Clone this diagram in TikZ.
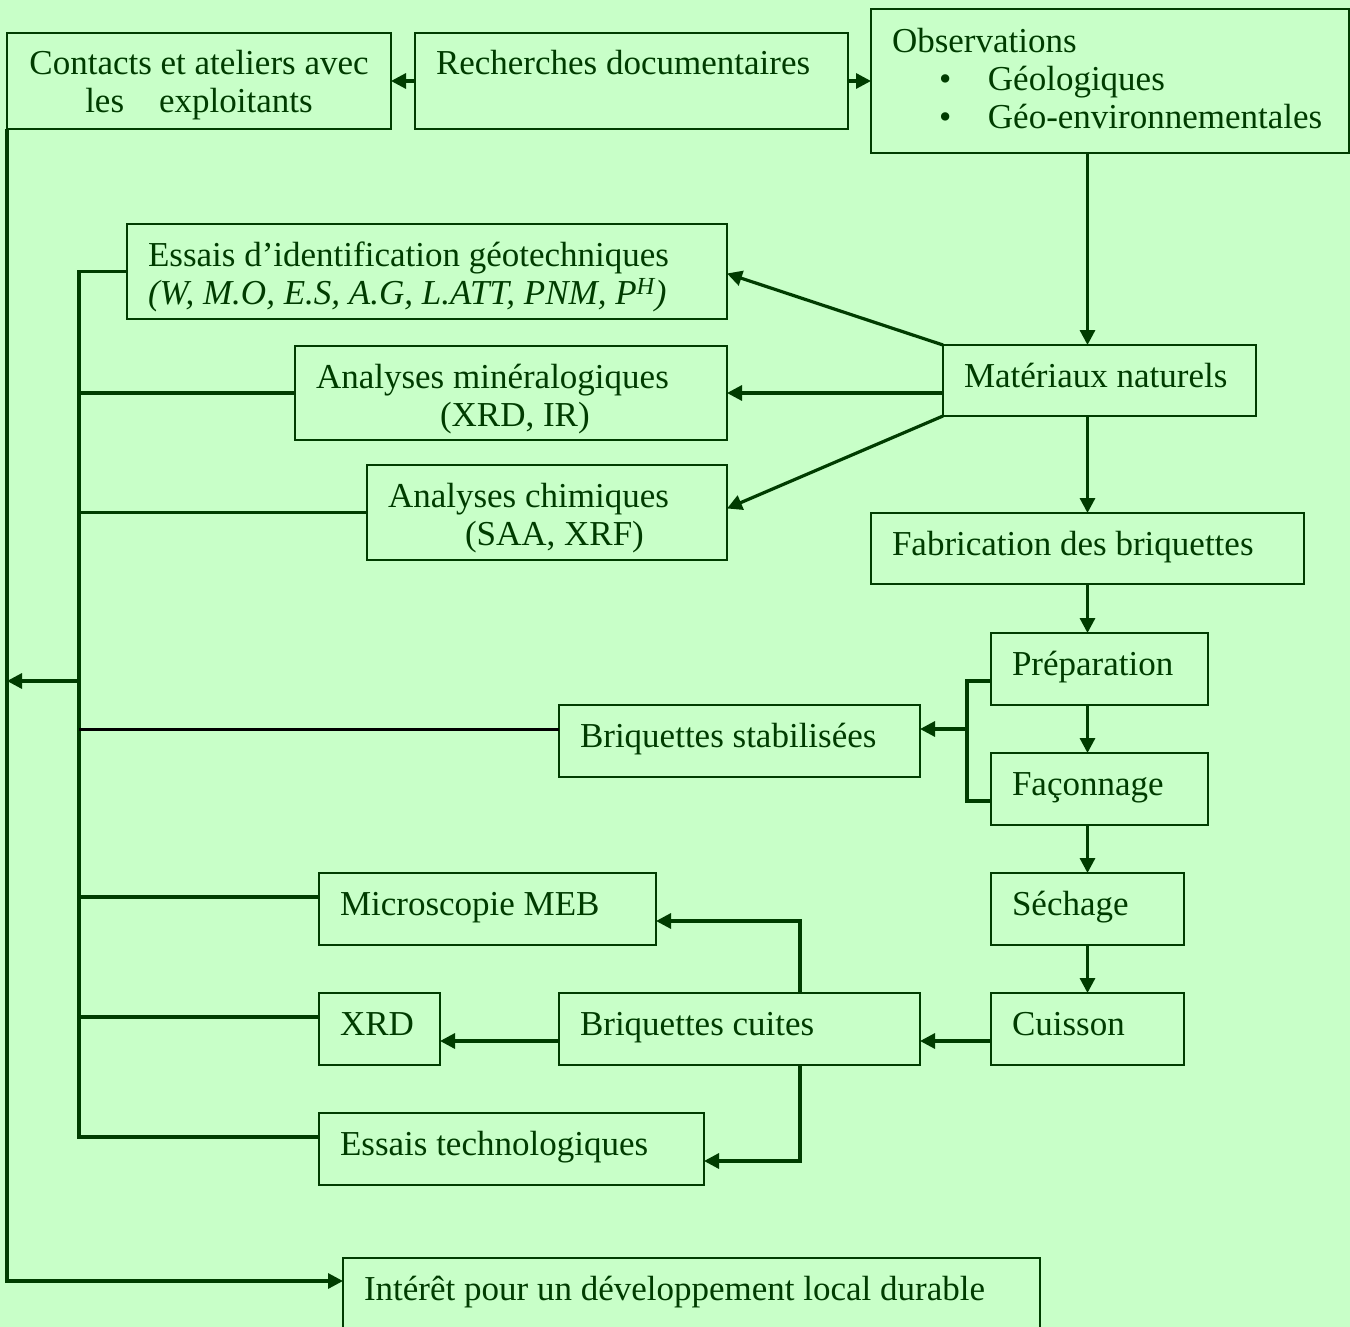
\documentclass[tikz,border=0pt]{standalone}
\usepackage{fontspec}
\setmainfont{Liberation Serif}
\usetikzlibrary{arrows.meta}
\definecolor{bg}{RGB}{200,255,200}
\definecolor{dg}{RGB}{0,60,0}
\newcommand\bxfont{\fontsize{35}{38}\selectfont}
\begin{document}
\begin{tikzpicture}[x=1pt,y=-1pt,
  box/.style={draw=dg, line width=1.6pt, rectangle, anchor=north west, outer sep=0pt,
    inner xsep=21pt, inner ysep=14pt, text height=28pt, text depth=16pt,
    align=flush left, font=\bxfont, text=dg},
  conn/.style={draw=dg, line width=3.2pt},
  arr/.style={-{Triangle[length=15pt,width=15pt]}},
]
\useasboundingbox (0,0) rectangle (1350,1327);
\fill[bg] (0,0) rectangle (1350,1327);
\clip (0,0) rectangle (1350,1327);

% top row
\node[box, align=flush center, inner xsep=15pt, text width=354pt, text depth=40pt] (cont) at (7,33)
  {Contacts et ateliers avec\\les\hspace*{35pt}exploitants};
\node[box, text width=391pt, text depth=40pt] (rech) at (415,33) {Recherches documentaires};
\node[box, text width=436pt, text height=30pt, text depth=86pt] (obs) at (871,9)
  {Observations\\\makebox[96pt][l]{\hspace*{47pt}\textbullet}Géologiques\\\makebox[96pt][l]{\hspace*{47pt}\textbullet}Géo-environnementales};

% analyses
\node[box, text width=558pt, text depth=39pt] (ess) at (127,224)
  {Essais d’identification géotechniques\\\textit{(W, M.O, E.S, A.G, L.ATT, PNM, P\textsuperscript{H})}};
\node[box, text width=390pt, text depth=38pt] (amin) at (295,346)
  {Analyses minéralogiques\\\hspace*{124pt}(XRD, IR)};
\node[box, text width=318pt, text depth=39pt] (achim) at (367,465)
  {Analyses chimiques\\\hspace*{77pt}(SAA, XRF)};

% right chain
\node[box, text width=271pt, text depth=15pt] (mat) at (943,345) {Matériaux naturels};
\node[box, text width=391pt, text depth=15pt] (fab) at (871,513) {Fabrication des briquettes};
\node[box, text width=175pt] (prep) at (991,633) {Préparation};
\node[box, text width=175pt] (fac) at (991,753) {Façonnage};
\node[box, text width=151pt] (sech) at (991,873) {Séchage};
\node[box, text width=151pt] (cuis) at (991,993) {Cuisson};

% middle
\node[box, text width=319pt] (stab) at (559,705) {Briquettes stabilisées};
\node[box, text width=319pt] (cuites) at (559,993) {Briquettes cuites};
\node[box, text width=295pt] (mic) at (319,873) {Microscopie MEB};
\node[box, text width=79pt] (xrd) at (319,993) {XRD};
\node[box, text width=343pt] (et) at (319,1113) {Essais technologiques};
\node[box, text width=655pt, text depth=34pt] (int) at (343,1258) {Intérêt pour un développement local durable};

% helper coordinates
\coordinate (busbot) at (79,1137);
\coordinate (busmid) at (79,681);
\coordinate (outc) at (7,1281);
\coordinate (brk) at (967,729);
\coordinate (cx) at (800,1029);

% top arrows
\draw[conn,arr] (rech.west) -- (cont.east);
\draw[conn,arr] (rech.east) -- (obs.west);

% spine
\draw[conn,arr] (obs.south -| fab.north) -- (mat.north -| fab.north);
\draw[conn,arr] (mat.south -| fab.north) -- (fab.north);
\draw[conn,arr] (fab.south) -- (prep.north -| fab.south);
\draw[conn,arr] (prep.south -| fab.south) -- (fac.north -| fab.south);
\draw[conn,arr] (fac.south -| fab.south) -- (sech.north -| fab.south);
\draw[conn,arr] (sech.south -| fab.south) -- (cuis.north -| fab.south);

% from Matériaux naturels
\draw[conn,arr] (mat.north west) -- ([yshift=-2pt]ess.east);
\draw[conn,arr] (amin.east -| mat.west) -- (amin.east);
\draw[conn,arr] (mat.south west) -- ([yshift=4pt]achim.east);

% bracket to stabilised
\draw[conn] ([yshift=-12pt]prep.west) -| (brk) |- ([yshift=-12pt]fac.west);
\draw[conn,arr] (brk) -- ([yshift=12pt]stab.east);

% fired briquettes
\draw[conn,arr] ([yshift=-12pt]cuis.west) -- ([yshift=-12pt]cuites.east);
\draw[conn,arr] ([yshift=-12pt]cuites.west) -- ([yshift=-12pt]xrd.east);
\draw[conn,arr] (cuites.north -| cx) |- ([yshift=-12pt]mic.east);
\draw[conn,arr] (cuites.south -| cx) |- ([yshift=-12pt]et.east);

% left bus
\draw[conn] (ess.west) -| (busbot) -- ([yshift=12pt]et.west);
\draw[conn] (amin.west) -- (amin.west -| busbot);
\draw[conn] (achim.west) -- (achim.west -| busbot);
\draw[conn, draw=black, line width=3pt] ([yshift=12pt]stab.west) -- ([yshift=12pt]stab.west -| busbot);
\draw[conn] ([yshift=12pt]mic.west) -- ([yshift=12pt]mic.west -| busbot);
\draw[conn] ([yshift=12pt]xrd.west) -- ([yshift=12pt]xrd.west -| busbot);
\draw[conn,arr] (busmid) -- (busmid -| cont.west);

% outer loop
\draw[conn,arr] (cont.south west) -- (outc) -- (outc -| int.west);
\end{tikzpicture}
\end{document}
